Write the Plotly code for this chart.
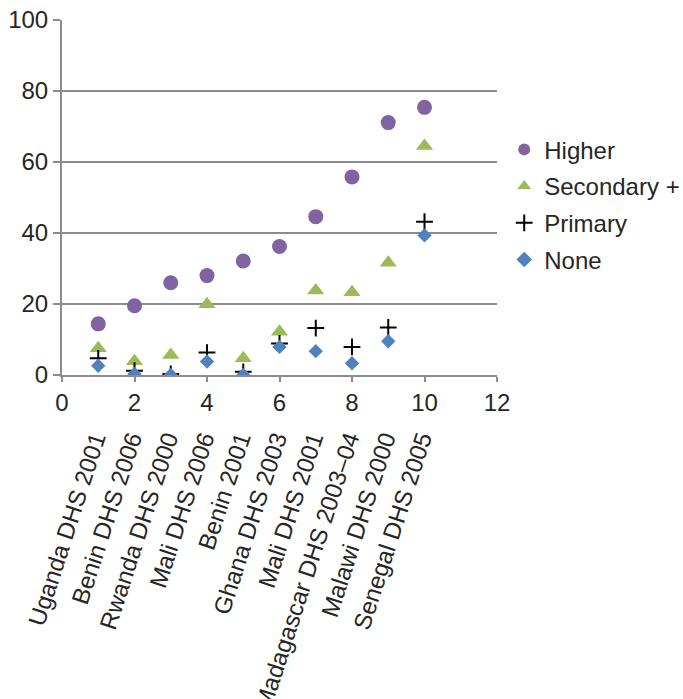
import plotly.graph_objects as go

x_vals = [1, 2, 3, 4, 5, 6, 7, 8, 9, 10]
survey_labels = ["Uganda DHS 2001", "Benin DHS 2006", "Rwanda DHS 2000", "Mali DHS 2006",
                 "Benin 2001", "Ghana DHS 2003", "Mali DHS 2001", "Madagascar DHS 2003\u201304",
                 "Malawi DHS 2000", "Senegal DHS 2005"]
higher = [14.4, 19.5, 26.0, 28.0, 32.1, 36.2, 44.6, 55.8, 71.1, 75.4]
secondary = [7.5, 3.9, 5.6, 19.9, 4.7, 12.2, 23.8, 23.3, 31.6, 64.5]
primary = [4.7, 1.2, 0.3, 6.3, 0.9, 8.9, 13.2, 7.9, 13.4, 43.2]
none_ = [2.6, 0.3, 0.0, 3.8, 0.0, 7.9, 6.7, 3.3, 9.5, 39.3]

FONT = "Liberation Sans, Arial, sans-serif"
GRID = "#8c8c8c"
TXT = "#262626"
FS = 24

fig = go.Figure()
fig.add_trace(go.Scatter(x=x_vals, y=higher, mode="markers", name="Higher", legendgroup="a",
                         marker=dict(symbol="circle", size=15, color="#8064A2")))
fig.add_trace(go.Scatter(x=x_vals, y=secondary, mode="markers", name="Secondary +", legendgroup="b",
                         marker=dict(symbol="triangle-up", size=15, color="#9BBB59")))
fig.add_trace(go.Scatter(x=x_vals, y=primary, mode="markers", name="Primary", legendgroup="c",
                         marker=dict(symbol="cross-thin", size=12, color="black",
                                     line=dict(color="black", width=2))))
fig.add_trace(go.Scatter(x=x_vals, y=none_, mode="markers", name="None", legendgroup="d",
                         marker=dict(symbol="diamond", size=11, color="#4F81BD")))
# invisible trace to carry the category label axis
fig.add_trace(go.Scatter(x=x_vals, y=none_, xaxis="x2", mode="markers", showlegend=False,
                         hoverinfo="skip", marker=dict(opacity=0)))

xaxis_cfg = dict(range=[0, 12], dtick=2, showgrid=False, zeroline=False, automargin=False,
                 showline=True, linecolor=GRID, linewidth=2,
                 ticks="outside", ticklen=5, tickcolor=GRID, tickwidth=2,
                 tickfont=dict(size=FS, family=FONT, color=TXT))

fig.update_layout(
    width=683, height=699,
    margin=dict(l=62, r=186, t=20, b=0, autoexpand=False),
    plot_bgcolor="white", paper_bgcolor="white",
    font=dict(family=FONT, size=FS, color=TXT),
    xaxis=xaxis_cfg,
    xaxis2=dict(range=[0.1, 12.1], overlaying="x", anchor="free", position=0.412, side="bottom",
                tickmode="array", tickvals=x_vals, ticktext=survey_labels, tickangle=-72,
                showgrid=False, zeroline=False, showline=False, ticks="", automargin=False,
                tickfont=dict(size=FS, family=FONT, color=TXT)),
    yaxis=dict(range=[0, 100], dtick=20, domain=[0.4772, 1], showgrid=True, gridcolor=GRID,
               gridwidth=2, zeroline=False, showline=True, linecolor=GRID, linewidth=2,
               ticks="outside", ticklen=7, tickcolor=GRID, tickwidth=2, automargin=False,
               tickfont=dict(size=FS, family=FONT, color=TXT)),
    legend=dict(x=1.0166, y=0.842, xanchor="left", yanchor="top", tracegroupgap=2.5,
                font=dict(size=FS, family=FONT, color=TXT), itemsizing="constant"),
    showlegend=True,
)
try:
    fig.update_xaxes(ticklabelstandoff=-4, selector=dict(anchor="y"))
except Exception:
    pass

fig.write_html("out.html")
